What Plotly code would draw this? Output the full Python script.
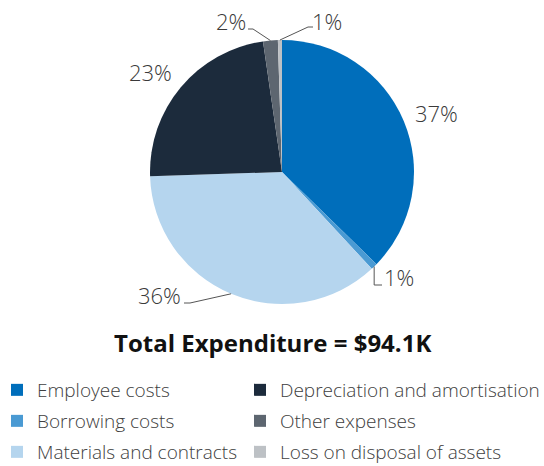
import math
import plotly.graph_objects as go

# ---- data ----
categories = ["Employee costs", "Borrowing costs", "Materials and contracts",
              "Depreciation and amortisation", "Other expenses", "Loss on disposal of assets"]
shares = [37.3, 0.8, 36.4, 23.2, 1.8, 0.5]
pct_labels = ["37%", "1%", "36%", "23%", "2%", "1%"]
colors = ["#006EBB", "#4A9AD3", "#B5D5EE", "#1C2B3C", "#5D6670", "#BDC1C5"]
title_text = "Total Expenditure = $94.1K"

# ---- layout constants (pixels) ----
W, H = 544, 466
CX, CY, R = 282, 172, 132
FONT = "Open Sans"

def px(x):
    return x / W

def py(y):
    return 1 - y / H

# legend grid: (column x, row y) for each category, in pixels
legend_cols = [-3, 240]
legend_rows = [390, 421, 452]
legend_cell = [(0, 0), (0, 1), (0, 2), (1, 0), (1, 1), (1, 2)]

# label centres and leader elbows (pixel positions), None = no leader
label_pos = [(436, 113), (399, 277), (159, 295), (150, 72), (231, 21), (327, 21)]
leaders = [None,
           [("v", 285), ("h", 382)],
           [("p", (190, 303)), ("h", 184)],
           None,
           [("p", (253, 29)), ("h", 248)],
           [("p", (308, 27)), ("h", 313)]]

fig = go.Figure()
fig.add_trace(go.Pie(
    values=shares, labels=categories, sort=False, direction="clockwise", rotation=0,
    marker=dict(colors=colors, line=dict(width=0)),
    textinfo="none", hoverinfo="label+percent", showlegend=False,
    domain=dict(x=[px(CX - R), px(CX + R)], y=[py(CY + R), py(CY - R)]),
))

# legend entries: one small legend per category so they form a 2-column grid
legend_layout = {}
for i, name in enumerate(categories):
    lname = "legend" if i == 0 else "legend%d" % (i + 1)
    fig.add_trace(go.Scatter(
        x=[None], y=[None], mode="markers", name=name,
        marker=dict(symbol="square", size=12, color=colors[i]),
        legend=lname, showlegend=True, hoverinfo="skip"))
    c, r = legend_cell[i]
    legend_layout[lname] = dict(
        orientation="v", xanchor="left", yanchor="middle",
        x=px(legend_cols[c]), y=py(legend_rows[r]), itemwidth=30,
        bgcolor="rgba(0,0,0,0)", borderwidth=0,
        font=dict(family=FONT, size=19, color="#404040", weight=300))

# percentage labels and leader lines
total = sum(shares)
cum = 0.0
shapes = []
annotations = []
for i, v in enumerate(shares):
    mid = 2 * math.pi * (cum + v / 2) / total
    cum += v
    ex, ey = CX + R * math.sin(mid), CY - R * math.cos(mid)
    tx, ty = label_pos[i]
    annotations.append(dict(x=px(tx), y=py(ty), xref="paper", yref="paper",
                            text=pct_labels[i], showarrow=False,
                            xanchor="center", yanchor="middle",
                            font=dict(family=FONT, size=22, color="#3a3a3a", weight=300)))
    if leaders[i]:
        x0, y0 = ex, ey
        for kind, val in leaders[i]:
            if kind == "v":
                x1, y1 = x0, val
            elif kind == "h":
                x1, y1 = val, y0
            else:
                x1, y1 = val
            shapes.append(dict(type="line", xref="paper", yref="paper",
                               x0=px(x0), y0=py(y0), x1=px(x1), y1=py(y1),
                               line=dict(color="#555555", width=1)))
            x0, y0 = x1, y1

annotations.append(dict(x=px(272), y=py(342), xref="paper", yref="paper",
                        text="<b>" + title_text + "</b>", showarrow=False,
                        xanchor="center", yanchor="middle",
                        font=dict(family=FONT, size=24, color="#111111")))

fig.update_layout(
    width=W, height=H, margin=dict(l=0, r=0, t=0, b=0, autoexpand=False),
    paper_bgcolor="white", plot_bgcolor="white",
    xaxis=dict(visible=False), yaxis=dict(visible=False),
    shapes=shapes, annotations=annotations,
    **legend_layout,
)

fig.write_html("out.html", config={"displayModeBar": False},
               post_script="document.body.style.margin='0';document.body.style.padding='0';")
